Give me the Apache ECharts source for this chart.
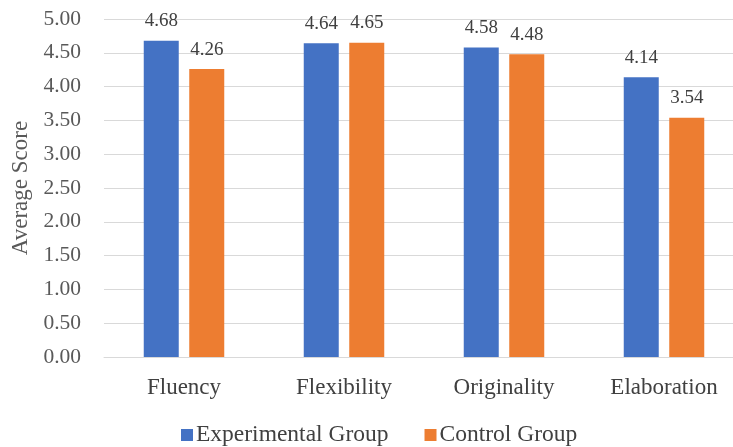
<!DOCTYPE html>
<html>
<head>
<meta charset="utf-8">
<script src="https://cdn.jsdelivr.net/npm/echarts@6/dist/echarts.min.js"></script>
<style>html,body{margin:0;padding:0;background:#fff}#c{width:733px;height:447px}</style>
</head>
<body>
<div id="c"></div>
<script>
const categories = ['Fluency', 'Flexibility', 'Originality', 'Elaboration'];
const experimental = [4.68, 4.64, 4.58, 4.14];
const control = [4.26, 4.65, 4.48, 3.54];
const seriesNames = ['Experimental Group', 'Control Group'];

const chart = echarts.init(document.getElementById('c'), null, {renderer: 'canvas'});
const font = '"Liberation Serif", "Times New Roman", serif';
const lbl = {show: true, position: 'top', distance: 10, color: '#404040', fontFamily: font, fontSize: 19,
  formatter: p => p.value.toFixed(2)};
chart.setOption({
  animation: false,
  textStyle: {fontFamily: font},
  grid: {left: 104, top: 19, width: 640, height: 338, containLabel: false, outerBoundsMode: 'none'},
  legend: {
    top: 418, left: 176, itemWidth: 12, itemHeight: 12, itemGap: 36, icon: 'rect',
    textStyle: {fontFamily: font, fontSize: 23.5, color: '#404040', padding: [0, 0, 0, -2]},
    data: seriesNames
  },
  xAxis: {
    type: 'category', data: categories,
    axisLine: {lineStyle: {color: '#d9d9d9', width: 1}},
    axisTick: {show: false},
    axisLabel: {fontFamily: font, fontSize: 23, color: '#404040', margin: 19}
  },
  yAxis: {
    type: 'value', min: 0, max: 5, interval: 0.5,
    name: 'Average Score', nameLocation: 'middle', nameGap: 72, nameRotate: 90,
    nameTextStyle: {fontFamily: font, fontSize: 23, color: '#595959'},
    axisLine: {show: false}, axisTick: {show: false},
    axisLabel: {fontFamily: font, fontSize: 21.5, color: '#595959', margin: 23,
      formatter: v => v.toFixed(2)},
    splitLine: {lineStyle: {color: '#d9d9d9', width: 1}}
  },
  series: [
    {name: seriesNames[0], type: 'bar', data: experimental, barWidth: 35, barGap: '30%',
      itemStyle: {color: '#4472c4'}, label: lbl},
    {name: seriesNames[1], type: 'bar', data: control, barWidth: 35,
      itemStyle: {color: '#ed7d31'}, label: lbl}
  ]
});
</script>
</body>
</html>
